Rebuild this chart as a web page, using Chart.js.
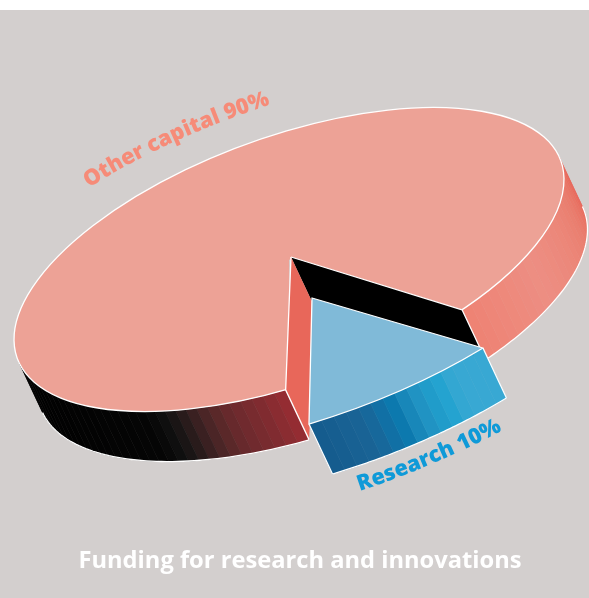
<!DOCTYPE html>
<html lang="en">
<head>
<meta charset="UTF-8">
<title>Funding for research and innovations</title>
<script src="https://cdn.jsdelivr.net/npm/chart.js"></script>
<style>
  html, body { margin: 0; background: #fff; }
  canvas { display: block; }
</style>
</head>
<body>
<canvas id="pie" width="589" height="598"></canvas>
<script>
const categories = ['Research', 'Other capital'];
const shares = [10, 90];
const topColors = ['#80bad8', '#eda296'];
const labelColors = ['#0f9ad8', '#f68b78'];
const chartTitle = 'Funding for research and innovations';

// tilted disc: image of the unit circle, wall depth, and the pulled-out slice with its own tilt
const CENTER = { x: 289, y: 259.5 };
const APEX = { x: 291, y: 257 };
const TILT = { a: 275, b: 0, c: -79.85, d: 129.4 };
const SLICE_CENTER = { x: 312, y: 298 };
const SLICE_TILT = { a: 295, b: -5.6, c: -87.3, d: 126.8 };
const DEPTH = { x: 23.5, y: 50 };
// the notch in the big slice opens a little wider than the slice, as in a perspective view
const NOTCH_WIDEN = [2.5, 1.2];
const LABEL_FONT = '800 21.8px "Open Sans"';

// wall shading, [angle in degrees, colour]
const leftWall = [[168, '#000000'], [122, '#050505'], [117, '#121212'], [113, '#2a1c1c'], [108, '#4f2627'],
  [103, '#6b2a2d'], [97, '#7e2b30'], [92, '#942c32'], [89, '#9c2d33']];
const rightWall = [[54, '#ee8070'], [45, '#ee8678'], [30, '#ed8e83'], [15, '#ec8678'], [5, '#ea7d6e'],
  [-5, '#e96d5e'], [-12, '#e86558']];
const researchWall = [[90, '#145a8c'], [80, '#1a6496'], [74, '#0b78ae'], [70, '#2090c0'], [65, '#20a2cf'],
  [61, '#38a8d3'], [53, '#38a8d3']];

const rad = d => d * Math.PI / 180;

function rimPoint(c, tilt, phi, r = 1) {
  const cx = Math.cos(phi) * r, sy = Math.sin(phi) * r;
  return { x: c.x + tilt.a * cx + tilt.b * sy, y: c.y + tilt.c * cx + tilt.d * sy };
}

function hex(c) {
  return [1, 3, 5].map(i => parseInt(c.substr(i, 2), 16));
}

function shade(stops, deg) {
  for (let i = 0; i < stops.length - 1; i++) {
    const [d0, c0] = stops[i], [d1, c1] = stops[i + 1];
    if (deg <= d0 && deg >= d1) {
      const t = (d0 - deg) / (d0 - d1);
      const m = hex(c0).map((v, k) => Math.round(v + (hex(c1)[k] - v) * t));
      return `rgb(${m[0]},${m[1]},${m[2]})`;
    }
  }
  return deg > stops[0][0] ? stops[0][1] : stops[stops.length - 1][1];
}

// outer wall between two angles, built from flat bands
function drawWall(ctx, c, tilt, from, to, stops) {
  const bands = Math.ceil(Math.abs(to - from) / 2.4);
  for (let i = 0; i < bands; i++) {
    const a0 = from + (to - from) * i / bands, a1 = from + (to - from) * (i + 1) / bands;
    const mid = (a0 + a1) / 2;
    ctx.beginPath();
    for (let k = 0; k <= 4; k++) {
      const p = rimPoint(c, tilt, rad(a0 + (a1 - a0) * k / 4));
      k ? ctx.lineTo(p.x, p.y) : ctx.moveTo(p.x, p.y);
    }
    for (let k = 4; k >= 0; k--) {
      const p = rimPoint(c, tilt, rad(a0 + (a1 - a0) * k / 4));
      ctx.lineTo(p.x + DEPTH.x, p.y + DEPTH.y);
    }
    ctx.closePath();
    ctx.fillStyle = ctx.strokeStyle = shade(stops, mid > 180 ? mid - 360 : mid);
    ctx.lineWidth = 0.6;
    ctx.fill();
    ctx.stroke();
  }
  ctx.beginPath();
  for (let k = 0; k <= 60; k++) {
    const p = rimPoint(c, tilt, rad(from + (to - from) * k / 60));
    k ? ctx.lineTo(p.x + DEPTH.x, p.y + DEPTH.y) : ctx.moveTo(p.x + DEPTH.x, p.y + DEPTH.y);
  }
  ctx.strokeStyle = '#fff';
  ctx.lineWidth = 1.3;
  ctx.stroke();
}

// inner cut face running from the apex out to the rim
function drawFlatWall(ctx, deg, color) {
  const p = rimPoint(CENTER, TILT, rad(deg));
  ctx.beginPath();
  ctx.moveTo(APEX.x, APEX.y);
  ctx.lineTo(p.x, p.y);
  ctx.lineTo(p.x + DEPTH.x, p.y + DEPTH.y);
  ctx.lineTo(APEX.x + DEPTH.x, APEX.y + DEPTH.y);
  ctx.closePath();
  ctx.fillStyle = color;
  ctx.fill();
  ctx.strokeStyle = '#fff';
  ctx.lineWidth = 1.3;
  ctx.beginPath();
  ctx.moveTo(p.x + DEPTH.x, p.y + DEPTH.y);
  ctx.lineTo(p.x, p.y);
  ctx.lineTo(APEX.x, APEX.y);
  ctx.stroke();
}

// top face: the library's arc under the tilt, outlined afterwards at an even width
function drawFace(ctx, arc, c, tilt, closed) {
  const { x, y, startAngle, endAngle, outerRadius: R } = arc.getProps(['x', 'y', 'startAngle', 'endAngle', 'outerRadius']);
  ctx.save();
  ctx.transform(tilt.a / R, tilt.c / R, tilt.b / R, tilt.d / R,
    c.x - (tilt.a * x + tilt.b * y) / R, c.y - (tilt.c * x + tilt.d * y) / R);
  arc.draw(ctx);
  ctx.beginPath();
  if (closed) ctx.moveTo(x, y);
  ctx.arc(x, y, R, startAngle, endAngle);
  if (closed) ctx.closePath();
  ctx.restore();
  ctx.strokeStyle = '#fff';
  ctx.lineWidth = 1.3;
  ctx.lineJoin = 'round';
  ctx.stroke();
}

// label set letter by letter along an ellipse around the disc
function textAlongRim(ctx, text, c, tilt, r, startDeg, dir, color) {
  ctx.save();
  ctx.font = LABEL_FONT;
  ctx.fillStyle = color;
  ctx.textAlign = 'center';
  ctx.textBaseline = 'alphabetic';
  let phi = rad(startDeg), walked = 0;
  let prev = rimPoint(c, tilt, phi, r);
  const step = dir * 0.001;
  for (let i = 0; i < text.length; i++) {
    const target = ctx.measureText(text.slice(0, i)).width + ctx.measureText(text[i]).width / 2;
    while (walked < target) {
      phi += step;
      const p = rimPoint(c, tilt, phi, r);
      walked += Math.hypot(p.x - prev.x, p.y - prev.y);
      prev = p;
    }
    const q = rimPoint(c, tilt, phi + step, r);
    ctx.save();
    ctx.translate(prev.x, prev.y);
    ctx.rotate(Math.atan2(q.y - prev.y, q.x - prev.x));
    ctx.fillText(text[i], 0, 0);
    ctx.restore();
  }
  ctx.restore();
}

const tiltedPie = {
  id: 'tiltedPie',
  beforeDraw(chart) {
    const ctx = chart.ctx;
    ctx.fillStyle = '#d3cfce';
    ctx.fillRect(0, 10, chart.width, chart.height - 10);
  },
  beforeDatasetsDraw(chart) {
    const ctx = chart.ctx;
    const [research, other] = chart.getDatasetMeta(0).data;
    const rStart = research.startAngle * 180 / Math.PI;
    const rEnd = research.endAngle * 180 / Math.PI;
    const notchStart = rStart - NOTCH_WIDEN[0];
    const notchEnd = rEnd + NOTCH_WIDEN[1];

    // where the side wall comes into view on either flank
    const dx = DEPTH.x / TILT.a, dy = (DEPTH.y - TILT.c * dx) / TILT.d;
    const edge = Math.atan2(-dx, dy) * 180 / Math.PI;

    drawWall(ctx, CENTER, TILT, notchEnd, edge + 180, leftWall);
    drawWall(ctx, CENTER, TILT, notchStart, edge, rightWall);
    drawFace(ctx, other, CENTER, TILT, false);
    drawFlatWall(ctx, notchStart, '#000');
    drawFlatWall(ctx, notchEnd, '#e8675a');

    drawWall(ctx, SLICE_CENTER, SLICE_TILT, rEnd, rStart, researchWall);
    // end edges of the pulled-out wall
    ctx.strokeStyle = '#fff';
    ctx.lineWidth = 1.3;
    [rStart, rEnd].forEach(d => {
      const p = rimPoint(SLICE_CENTER, SLICE_TILT, rad(d));
      ctx.beginPath();
      ctx.moveTo(p.x, p.y);
      ctx.lineTo(p.x + DEPTH.x, p.y + DEPTH.y);
      ctx.stroke();
    });
    drawFace(ctx, research, SLICE_CENTER, SLICE_TILT, true);

    textAlongRim(ctx, `${categories[1]} ${shares[1]}%`, CENTER, TILT, 1.24, -126, 1, labelColors[1]);
    textAlongRim(ctx, `${categories[0]} ${shares[0]}%`,
      { x: SLICE_CENTER.x + DEPTH.x, y: SLICE_CENTER.y + DEPTH.y }, SLICE_TILT, 1.205, 85, -1, labelColors[0]);
    return false;
  }
};

new Chart(document.getElementById('pie'), {
  type: 'pie',
  data: {
    labels: categories,
    datasets: [{ data: shares, backgroundColor: topColors, borderWidth: 0 }]
  },
  options: {
    responsive: false,
    animation: false,
    events: [],
    rotation: 143.5,
    layout: { padding: { left: 11, bottom: 23 } },
    plugins: {
      legend: { display: false },
      tooltip: { enabled: false },
      title: {
        display: true,
        text: chartTitle,
        position: 'bottom',
        color: '#ffffff',
        padding: 0,
        font: { family: '"Open Sans"', size: 23.7, weight: 'bold' }
      }
    }
  },
  plugins: [tiltedPie]
});
</script>
</body>
</html>
